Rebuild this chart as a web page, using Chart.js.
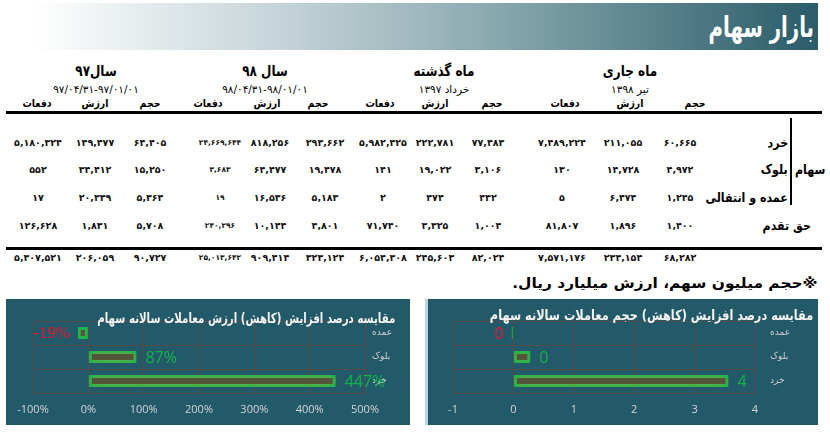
<!DOCTYPE html>
<html lang="fa">
<head>
<meta charset="utf-8">
<script src="https://cdn.jsdelivr.net/npm/chart.js@4.4.1/dist/chart.umd.min.js"></script>
<style>
body{margin:0;width:830px;height:432px;background:#fff;position:relative;overflow:hidden;font-family:"DejaVu Sans",sans-serif;color:#000;}
.abs{position:absolute;white-space:nowrap;direction:rtl;}
.mid{transform:translate(-50%,-50%) scaleX(var(--sx,1));text-align:center;}
.rt{transform:translateY(-50%) scaleX(var(--sx,1));transform-origin:right center;}
.lt{transform:translateY(-50%) scaleX(var(--sx,1));transform-origin:left center;}
#header{left:0;top:3px;width:818px;height:47px;background:linear-gradient(to right,#ffffff 0%,#ffffff 4%,#c3d2d7 35%,#8aa9af 60%,#2a5c6a 100%);}
#title{color:#fff;font-weight:bold;font-size:29px;--sx:0.68;}
.period{font-weight:bold;font-size:15px;--sx:0.8;}
.pdate{font-size:10.5px;}
.measure{font-weight:bold;font-size:11px;--sx:0.85;}
.num{font-weight:bold;font-size:9.5px;color:#111;direction:ltr;}
.small{font-size:7.5px;}
.rowname{font-weight:bold;font-size:13px;--sx:0.85;}
.note{font-weight:bold;font-size:14px;--sx:1.1;}
.rule{position:absolute;background:#000;}
.panel{position:absolute;background:#235a69;}
.ctitle{color:#f2f2f2;font-weight:bold;font-size:14px;z-index:2;}
canvas{position:absolute;}
</style>
</head>
<body>
<div class="abs" id="header"></div>
<div id="table"></div>

<div class="panel" style="left:6px;top:299px;width:404px;height:126px;"></div>
<div class="panel" style="left:425px;top:299px;width:393px;height:126px;border-left:3px solid #b9d3e2;box-sizing:border-box;"></div>
<canvas id="valueChart" width="404" height="126" style="left:6px;top:299px;"></canvas>
<canvas id="volumeChart" width="390" height="126" style="left:428px;top:299px;"></canvas>

<script>
'use strict'

// table data
const pageTitle = 'بازار سهام';
const periods = ['ماه جاری', 'ماه گذشته', 'سال ۹۸', 'سال۹۷'];
const periodDates = ['تیر ۱۳۹۸', 'خرداد ۱۳۹۷', '۹۸/۰۴/۳۱-۹۸/۰۱/۰۱', '۹۷/۰۴/۳۱-۹۷/۰۱/۰۱'];
const measures = ['حجم', 'ارزش', 'دفعات'];
const rowNames = ['خرد', 'بلوک', 'عمده و انتقالی', 'حق تقدم'];
const groupName = 'سهام';
const rowKhord = ['۶۰,۶۶۵','۲۱۱,۰۵۵','۷,۴۸۹,۲۲۴','۷۷,۴۸۳','۲۲۲,۷۸۱','۵,۹۸۲,۴۲۵','۲۹۳,۶۶۲','۸۱۸,۲۵۶','۲۴,۶۶۹,۶۴۴','۶۴,۴۰۵','۱۴۹,۴۷۷','۵,۱۸۰,۳۲۴'];
const rowBlock = ['۴,۹۷۲','۱۴,۷۲۸','۱۳۰','۳,۱۰۶','۱۹,۰۲۲','۱۴۱','۱۹,۴۷۸','۶۴,۴۷۷','۳,۶۸۳','۱۵,۲۵۰','۳۴,۴۱۲','۵۵۲'];
const rowOmdeh = ['۱,۲۴۵','۶,۴۷۴','۵','۴۳۲','۴۷۴','۲','۵,۱۸۳','۱۶,۵۳۶','۱۹','۵,۳۶۴','۲۰,۳۳۹','۱۷'];
const rowHagh = ['۱,۴۰۰','۱,۸۹۶','۸۱,۸۰۷','۱,۰۰۴','۳,۳۲۵','۷۱,۷۴۰','۴,۸۰۱','۱۰,۱۴۴','۲۴۰,۲۹۶','۵,۷۰۸','۱,۸۳۱','۱۲۶,۶۲۸'];
const rowTotal = ['۶۸,۲۸۲','۲۳۴,۱۵۴','۷,۵۷۱,۱۷۶','۸۲,۰۲۴','۲۴۵,۶۰۳','۶,۰۵۴,۳۰۸','۳۲۳,۱۲۴','۹۰۹,۴۱۴','۲۵,۰۱۳,۶۴۲','۹۰,۷۲۷','۲۰۶,۰۵۹','۵,۳۰۷,۵۲۱'];
const footnote = '※حجم میلیون سهم، ارزش میلیارد ریال.';

// chart data
const chartCategories = ['عمده', 'بلوک', 'خرد'];
const valueTitle = 'مقایسه درصد افزایش (کاهش) ارزش معاملات سالانه سهام';
const valueChange = [-19, 87, 447];
const valueTicks = [-100, 500, 100];
const volumeTitle = 'مقایسه درصد افزایش (کاهش) حجم معاملات سالانه سهام';
const volumeChange = [-0.03, 0.28, 3.56];
const volumeTicks = [-1, 4, 1];

// layout
const periodX = [630, 444, 265, 96];
const measureX = [695, 630, 565, 492, 435, 380, 318, 267, 208, 150, 95, 37];
const cellX = [680, 623, 562, 488, 435, 383, 325, 270, 220, 150, 95, 38];
const rowY = [142, 169, 197, 225];
const totalY = 257;

const table = document.getElementById('table');

function addText(text, x, y, className, anchor = 'mid', sx){
    let el = document.createElement('div');
    el.className = 'abs ' + anchor + ' ' + className;
    el.textContent = text;
    if(anchor === 'rt'){
        el.style.right = (830 - x) + 'px';
    }else{
        el.style.left = x + 'px';
    }
    el.style.top = y + 'px';
    if(sx){
        el.style.setProperty('--sx', sx);
    }
    document.body.appendChild(el);
    return el;
}

function addRule(x, y, w, h){
    let el = document.createElement('div');
    el.className = 'rule';
    el.style.left = x + 'px';
    el.style.top = y + 'px';
    el.style.width = w + 'px';
    el.style.height = h + 'px';
    table.appendChild(el);
}

function renderTable(){
    addText(pageTitle, 814, 27, '', 'rt').id = 'title';
    for(let i = 0; i < periods.length; i++){
        addText(periods[i], periodX[i], 71, 'period');
        addText(periodDates[i], periodX[i], 89, 'pdate');
    }
    for(let i = 0; i < measureX.length; i++){
        addText(measures[i % 3], measureX[i], 103, 'measure');
    }
    addRule(6, 111, 816, 3);
    let rows = [rowKhord, rowBlock, rowOmdeh, rowHagh];
    for(let r = 0; r < rows.length; r++){
        for(let c = 0; c < rows[r].length; c++){
            addText(rows[r][c], cellX[c], rowY[r], c === 8 ? 'num small' : 'num');
        }
        addText(rowNames[r], r === 3 ? 811 : 788, rowY[r], 'rowname', 'rt');
    }
    addRule(790, 118, 2, 87);
    addText(groupName, 795, rowY[1], 'rowname', 'lt');
    addRule(6, 247, 816, 3);
    for(let c = 0; c < rowTotal.length; c++){
        addText(rowTotal[c], cellX[c], totalY, c === 8 ? 'num small' : 'num');
    }
    addText(footnote, 818, 283, 'note', 'rt');
    addText(valueTitle, 395, 318, 'ctitle', 'rt', 0.73);
    addText(volumeTitle, 813, 315, 'ctitle', 'rt', 0.81);
}

// soft glow behind the bars
const glowPlugin = {
    id: 'glow',
    beforeDatasetDraw(chart){
        const ctx = chart.ctx;
        ctx.save();
        ctx.shadowColor = 'rgba(205,170,70,0.85)';
        ctx.shadowBlur = 8;
    },
    afterDatasetDraw(chart){
        chart.ctx.restore();
    }
};

const valueLabelPlugin = {
    id: 'valueLabels',
    afterDatasetsDraw(chart, args, opts){
        const ctx = chart.ctx;
        const meta = chart.getDatasetMeta(0);
        const data = chart.data.datasets[0].data;
        ctx.save();
        ctx.textBaseline = 'middle';
        for(let i = 0; i < meta.data.length; i++){
            let bar = meta.data[i];
            let neg = data[i] < 0;
            ctx.font = neg && opts.serif ? '17px "Liberation Serif"' : '16px "Open Sans"';
            ctx.fillStyle = neg ? '#ee1430' : '#13b24b';
            ctx.textAlign = neg ? 'right' : 'left';
            ctx.fillText(opts.format(Math.round(data[i])), bar.x + (neg ? -8 : 9), bar.y + 1);
        }
        ctx.restore();
    }
};

function generateChartConfig(values, ticks, format, sides, labelPad){
    const gridColor = '#554c47';
    const data = {
        labels: chartCategories,
        datasets: [{
            data: values,
            backgroundColor: '#55553a',
            borderColor: '#10b44b',
            borderWidth: 3,
            borderSkipped: false,
            barPercentage: 0.5,
            categoryPercentage: 1
        }]
    };

    const config = {
        type: 'bar',
        data: data,
        plugins: [glowPlugin, valueLabelPlugin],
        options: {
            indexAxis: 'y',
            responsive: false,
            animation: false,
            layout: {
                padding: {left: sides.left, top: 22, right: 0, bottom: 0}
            },
            plugins: {
                legend: {display: false},
                tooltip: {enabled: false},
                valueLabels: {format: format, serif: format(1) === '1%'}
            },
            scales: {
                x: {
                    min: ticks[0],
                    max: ticks[1],
                    ticks: {
                        stepSize: ticks[2],
                        padding: 10,
                        color: '#d4d4d4',
                        font: {family: 'Open Sans', size: 11},
                        callback: v => format(v)
                    },
                    grid: {color: gridColor, drawTicks: false},
                    border: {color: gridColor},
                    afterFit: scale => { scale.height = 32; }
                },
                y: {
                    position: 'right',
                    ticks: {
                        padding: labelPad,
                        color: '#d0d0d0',
                        font: {family: 'DejaVu Sans', size: 9}
                    },
                    grid: {color: gridColor, drawTicks: false},
                    border: {color: gridColor},
                    afterFit: scale => { scale.width = sides.right; }
                }
            }
        }
    };

    return config;
}

function init(){
    renderTable();
    new Chart(document.getElementById('valueChart'), generateChartConfig(valueChange, valueTicks, v => v + '%', {left: 27, right: 45}, 7));
    new Chart(document.getElementById('volumeChart'), generateChartConfig(volumeChange, volumeTicks, v => String(v), {left: 25, right: 63}, 15));
}

init();
</script>
</body>
</html>
